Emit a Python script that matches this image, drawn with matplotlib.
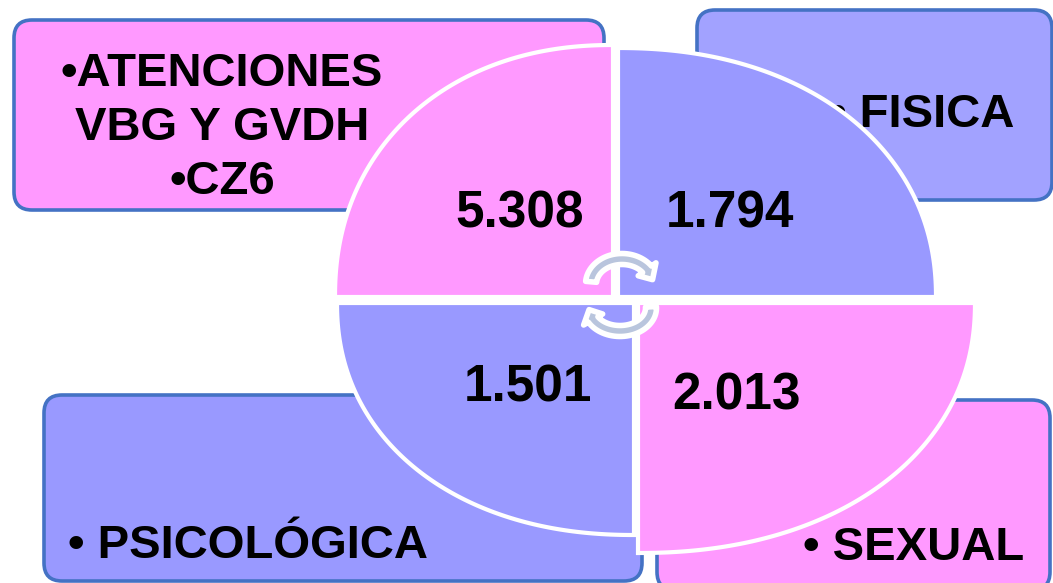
import numpy as np
import matplotlib
matplotlib.use("Agg")
import matplotlib.pyplot as plt
from matplotlib.patches import FancyBboxPatch, Polygon

# Datos del diagrama
valores = ["5.308", "1.794", "1.501", "2.013"]
categorias = ["• FISICA", "• PSICOLÓGICA", "• SEXUAL"]
titulo = ["•ATENCIONES", "VBG Y GVDH", "•CZ6"]

rosa = "#FF99FF"
azul = "#9999FF"
azul_claro = "#A2A2FF"
borde = "#4472C4"
flecha = "#B9C5DD"
fuente = ["Liberation Sans", "DejaVu Sans"]

W, H = 1053, 583
fig = plt.figure(figsize=(W / 100, H / 100), dpi=100)
ax = fig.add_axes([0, 0, 1, 1])
ax.set_xlim(0, W)
ax.set_ylim(H, 0)
ax.axis("off")


def caja(x0, y0, x1, y1, color):
    p = FancyBboxPatch((x0, y0), x1 - x0, y1 - y0,
                       boxstyle="round,pad=0,rounding_size=18",
                       fc=color, ec=borde, lw=2.6, zorder=1)
    ax.add_patch(p)


# Cajas de fondo
caja(14, 20, 604, 210, rosa)
caja(697, 10, 1052, 200, azul_claro)
caja(44, 395, 642, 581, azul)
caja(657, 400, 1050, 590, rosa)

# Textos de las cajas
for texto, yb in zip(titulo, [86, 140, 194]):
    ax.text(222, yb, texto, ha="center", va="baseline", fontsize=34,
            fontweight="bold", family=fuente, zorder=2)
pos_cat = [(830, 127), (68, 558), (803, 560)]
for texto, (x, y) in zip(categorias, pos_cat):
    ax.text(x, y, texto, ha="left", va="baseline", fontsize=34,
            fontweight="bold", family=fuente, zorder=2)


def cuadrante(cx, cy, rx, ry, sx, sy, color, n=2.15):
    t = np.linspace(0, np.pi / 2, 120)
    c, s = np.cos(t) ** (2 / n), np.sin(t) ** (2 / n)
    pts = [(cx, cy)] + [(cx + sx * rx * a, cy + sy * ry * b) for a, b in zip(c, s)]
    ax.add_patch(Polygon(pts, closed=True, fc=color, ec="white", lw=3,
                         joinstyle="miter", zorder=3))


# Cuadrantes del círculo
cuadrante(613, 297, 278, 252, -1, -1, rosa)
cuadrante(618, 297, 318, 249, 1, -1, azul)
cuadrante(634, 303, 297, 232, -1, 1, azul)
cuadrante(638, 303, 337, 250, 1, 1, rosa)

# Valores
pos_val = [(520, 228), (730, 228), (528, 402), (737, 409)]
for v, (x, y) in zip(valores, pos_val):
    ax.text(x, y, v, ha="center", va="baseline", fontsize=37,
            fontweight="bold", family=fuente, zorder=4)


def flecha_curva(cx, cy, rx, ry, t0, t1, sgn):
    # arco grueso con punta; sgn=1 por arriba, -1 por abajo (eje y invertido)
    hw, w = 11, 5.5
    t = np.radians(np.linspace(t0, t1, 40))
    dt = np.radians(26) * np.sign(t1 - t0)
    punto = lambda d, a: (cx + (rx + d) * np.cos(a), cy - sgn * (ry + d) * np.sin(a))
    ext = [punto(w, a) for a in t]
    inn = [punto(-w, a) for a in t[::-1]]
    cab = [punto(hw, t[-1]), punto(0, t[-1] + dt), punto(-hw, t[-1])]
    ax.add_patch(Polygon(ext + cab + inn, closed=True, fc=flecha, ec="white",
                         lw=4, joinstyle="round", zorder=5))


flecha_curva(622, 284, 31, 25, 175, 36, 1)
flecha_curva(620, 308, 31, 23, -3, 150, -1)

fig.savefig("out.png", dpi=100)
